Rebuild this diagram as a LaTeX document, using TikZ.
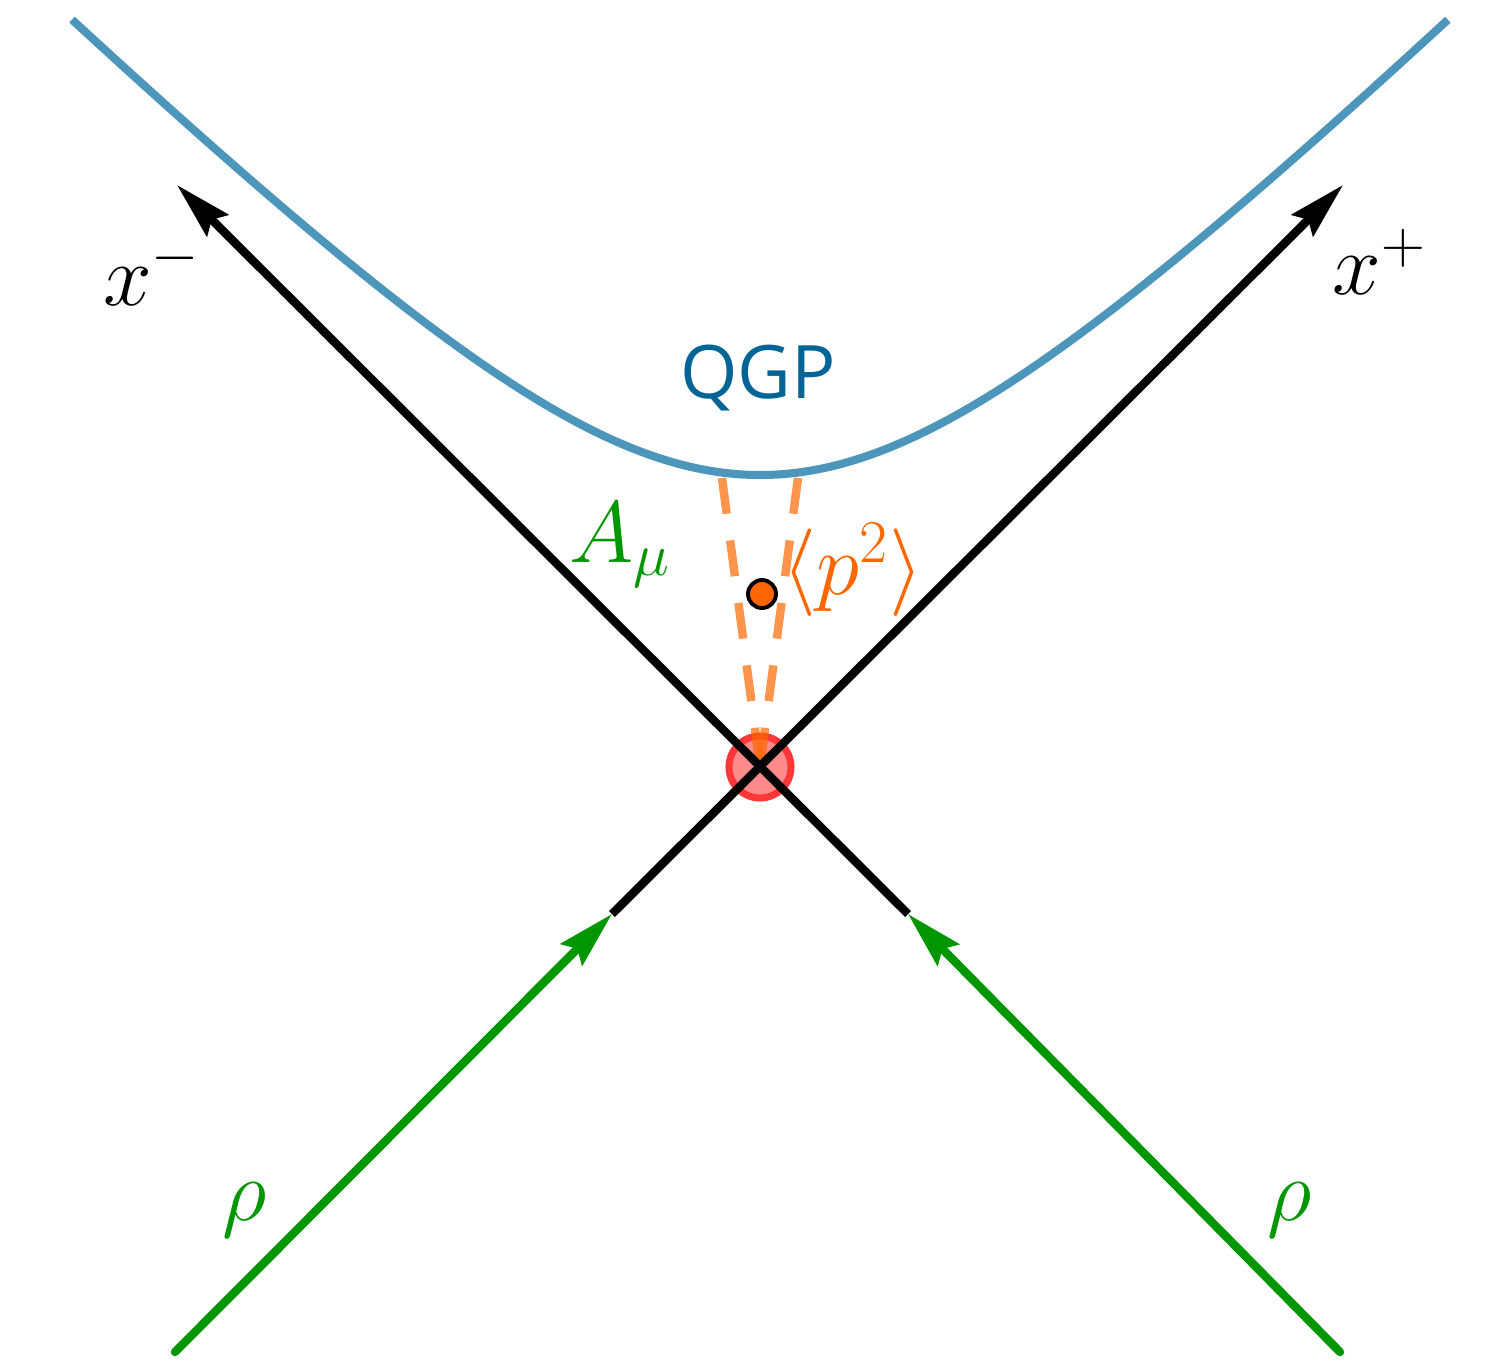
\documentclass[tikz,border=0pt]{standalone}
\usepackage{fontspec}
\usepackage{amsmath}
\usetikzlibrary{arrows.meta}
\newfontfamily\qgpfont{Open Sans}
\definecolor{mygreen}{RGB}{0,150,0}
\definecolor{myblue}{RGB}{76,150,188}
\definecolor{qgpblue}{RGB}{0,100,150}
\definecolor{myorange}{RGB}{255,102,0}
\definecolor{myred}{RGB}{255,55,55}
\definecolor{hdrred}{RGB}{255,138,138}
\tikzset{
  axisarrow/.style={-{Stealth[length=5.7mm, width=3mm, inset=0.8mm]},
    line width=2.4pt, color=black},
  srcarrow/.style={-{Stealth[length=5.7mm, width=3mm, inset=0.8mm]},
    line width=2.4pt, color=mygreen, line cap=round},
  tauline/.style={line width=2.3pt, color=myblue},
  coneline/.style={line width=2.4pt, color=myorange, opacity=0.7,
    dash pattern=on 3.6mm off 2.7mm},
  collision/.style={circle, draw=myred, fill=hdrred, line width=2pt,
    minimum size=0.62cm, inner sep=0pt},
  probe/.style={circle, draw=black, fill=myorange, line width=1.1pt,
    minimum size=0.28cm, inner sep=0pt},
  lbl/.style={font=\fontsize{24.5}{29}\selectfont},
  smalllbl/.style={font=\fontsize{23}{27}\selectfont}
}
\begin{document}
\begin{tikzpicture}
  \useasboundingbox (-7.60,-6.00) rectangle (7.36,7.67);
  % light cone axes and nuclei
  \coordinate (O) at (0,0);
  \coordinate (xm) at (-5.83,5.82);
  \coordinate (xp) at (5.83,5.82);
  \coordinate (hitL) at (-1.48,-1.47);
  \coordinate (hitR) at (1.48,-1.47);
  \coordinate (startL) at (-5.85,-5.85);
  \coordinate (startR) at (5.80,-5.85);
  \coordinate (coneL) at (-0.38,2.89);
  \coordinate (coneR) at (0.38,2.89);

  % proper time hyperbola
  \draw[tauline] plot[domain=-6.88:6.88, samples=120, smooth]
    (\x, {sqrt(\x*\x+2.92*2.92)});
  \node[text=qgpblue, font=\qgpfont\fontsize{21}{25}\selectfont] (qgp) at (-0.02,3.89) {QGP};

  % collision point
  \node[collision] (hit) at (O) {};
  \draw[coneline] (coneL) -- (O);
  \draw[coneline] (coneR) -- (O);

  \draw[axisarrow] (hitL) -- (xp);
  \draw[axisarrow] (hitR) -- (xm);
  \draw[srcarrow] (startL) -- (hitL);
  \draw[srcarrow] (startR) -- (hitR);

  \node[probe] (pt) at (0.02,1.73) {};
  \node[smalllbl, text=myorange] (p2) at (0.93,1.97) {$\langle p^2\rangle$};

  % labels
  \node[lbl] (xmlbl) at (-6.08,4.95) {$x^-$};
  \node[lbl] (xplbl) at (6.20,5.05) {$x^+$};
  \node[smalllbl, text=mygreen] (amu) at (-1.40,2.22) {$A_\mu$};
  \node[lbl, text=mygreen] (rhoL) at (-5.15,-4.43) {$\rho$};
  \node[lbl, text=mygreen] (rhoR) at (5.30,-4.43) {$\rho$};
\end{tikzpicture}
\end{document}
